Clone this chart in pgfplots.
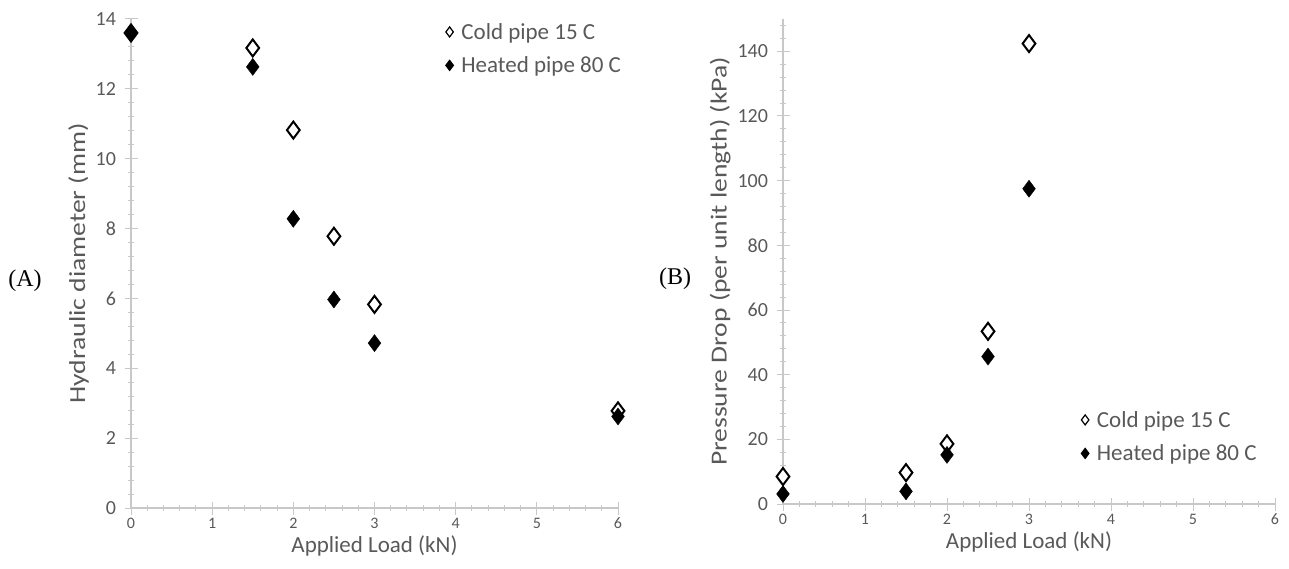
\documentclass[border=0pt]{standalone}
\usepackage{pgfplots}
\pgfplotsset{compat=1.18}
\usepackage{fontspec}
\setmainfont{Carlito}
\newfontfamily\seriff{Liberation Serif}
\definecolor{axgray}{HTML}{C8C8C8}
\definecolor{txtgray}{HTML}{595959}

\pgfplotsset{
  refstyle/.style={
    scale only axis,
    anchor=south west,
    axis x line=bottom, axis y line=left,
    axis line style={-, axgray, line width=1.2pt},
    tick style={axgray, line width=1pt},
    tick align=center,
    major tick length=13pt,
    minor tick length=6pt,
    xmin=0, xmax=6, xtick={0,...,6},
    minor x tick num=4,
    minor y tick num=4,
    xticklabel style={font=\fontsize{16}{16}\selectfont, text=txtgray},
    yticklabel style={font=\fontsize{20}{20}\selectfont, text=txtgray, xshift=-5pt},
    label style={font=\fontsize{23}{23}\selectfont, text=txtgray},
    ylabel style={xscale=1.2},
    /pgf/number format/assume math mode=true,
    clip=false,
    legend cell align=left,
    legend style={draw=none, fill=none, font=\fontsize{23}{23}\selectfont,
      text=txtgray, anchor=north west, row sep=12pt,
      /tikz/every odd column/.append style={column sep=6pt}},
    legend image code/.code={\draw[#1, mark size=5pt, line width=1.2pt] plot coordinates {(0cm,0cm)};},
  },
  cold/.style={only marks, mark=diamond*, mark size=8.5pt, draw=black, fill=white, line width=2pt},
  hot/.style={only marks, mark=diamond*, mark size=8.5pt, draw=black, fill=black},
}

\begin{document}
\begin{tikzpicture}
\path[use as bounding box] (0,0) rectangle (1289pt,568pt);

% (A) hydraulic diameter
\begin{axis}[refstyle,
    at={(131pt,60pt)}, width=487pt, height=489pt,
    ymin=0, ymax=14, ytick={0,2,...,14},
    xlabel={Applied Load (kN)},
    ylabel={Hydraulic diameter (mm)},
    legend style={at={(rel axis cs:0.64,1.0)}},
  ]
\addplot[cold] coordinates {(0,13.6) (1.5,13.17) (2,10.82) (2.5,7.78) (3,5.83) (6,2.78)};
\addplot[hot] coordinates {(0,13.6) (1.5,12.63) (2,8.28) (2.5,5.97) (3,4.72) (6,2.62)};
\legend{Cold pipe 15 C, Heated pipe 80 C}
\end{axis}

% (B) pressure drop
\begin{axis}[refstyle,
    at={(783pt,64pt)}, width=492pt, height=485pt,
    ymin=0, ymax=150, ytick={0,20,...,160},
    xlabel={Applied Load (kN)},
    ylabel={Pressure Drop (per unit length) (kPa)},
    legend style={at={(rel axis cs:0.6,0.2)}},
  ]
\addplot[cold] coordinates {(0,8.5) (1.5,9.7) (2,18.6) (2.5,53.4) (3,142.4)};
\addplot[hot] coordinates {(0,3.1) (1.5,3.9) (2,15.2) (2.5,45.6) (3,97.5)};
\legend{Cold pipe 15 C, Heated pipe 80 C}
\end{axis}

\node[font=\seriff\fontsize{24}{24}\selectfont] at (25pt,287pt) {(A)};
\node[font=\seriff\fontsize{24}{24}\selectfont] at (675pt,289pt) {(B)};
\end{tikzpicture}
\end{document}
